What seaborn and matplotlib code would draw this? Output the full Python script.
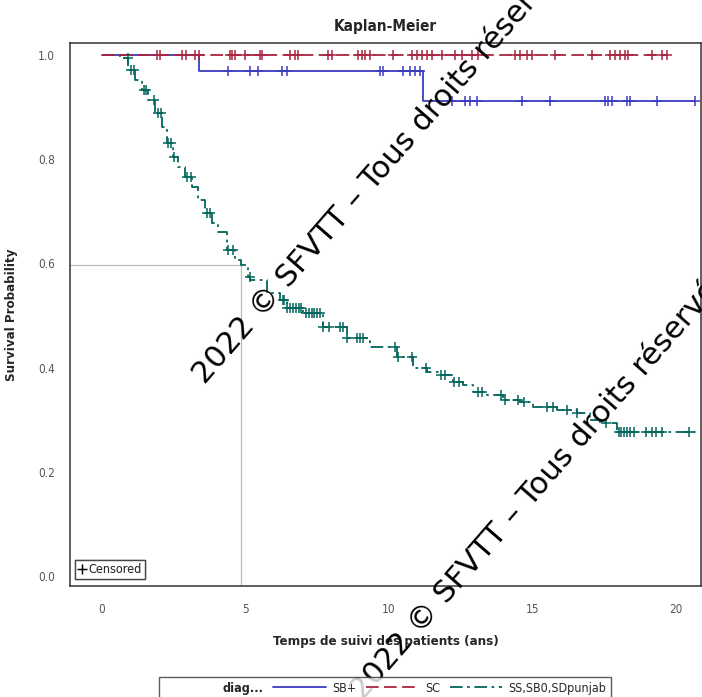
import numpy as np
import pandas as pd
import matplotlib
matplotlib.use("Agg")
import matplotlib.pyplot as plt
from matplotlib.lines import Line2D
import seaborn as sns

# ---------------- data ----------------
groups = ["SB+", "SC", "SS,SB0,SDpunjab"]

# SB+ : step curve
sbp_time = [0.0, 3.38, 11.2]
sbp_surv = [1.0, 0.969, 0.912]
sbp_end = 20.66
sbp_cens = [4.38, 5.16, 5.44, 6.27, 6.45, 9.69, 9.79, 10.49, 10.73, 10.91, 11.08,
            12.2, 12.65, 12.82, 13.07, 14.63, 15.61, 17.53, 17.63, 17.77, 18.29,
            18.4, 19.34, 20.66]

# SC : no events
sc_time = [0.0]
sc_surv = [1.0]
sc_end = 19.69
sc_cens = [1.91, 2.02, 2.79, 2.92, 3.24, 3.38, 4.46, 4.53, 4.63, 4.98, 5.51, 5.57,
           6.55, 6.72, 6.83, 7.86, 8.0, 8.92, 9.06, 9.16, 9.34, 10.14, 10.8, 10.98,
           11.15, 11.32, 11.5, 11.85, 12.3, 12.54, 12.89, 13.1, 14.39, 14.56, 14.8,
           14.98, 15.78, 17.07, 17.7, 17.87, 18.05, 18.22, 18.33, 19.16, 19.51, 19.69]

# SS,SB0,SDpunjab : step curve
ss_time = [0.0, 0.63, 0.91, 1.15, 1.39, 1.60, 1.85, 2.09, 2.26, 2.47, 2.65, 2.89, 3.14,
           3.34, 3.59, 3.83, 4.04, 4.36, 4.63, 4.84, 5.09, 5.16, 5.75, 6.20, 6.45,
           7.00, 7.70, 8.54, 9.34, 10.28, 10.84, 11.32, 11.78, 12.23, 12.58, 12.93,
           13.41, 13.97, 14.56, 15.02, 15.85, 16.55, 17.0, 17.35, 17.94]
ss_surv = [1.0, 0.994, 0.971, 0.952, 0.933, 0.914, 0.889, 0.862, 0.831, 0.804, 0.785,
           0.766, 0.747, 0.722, 0.697, 0.678, 0.660, 0.626, 0.607, 0.597, 0.574,
           0.568, 0.543, 0.530, 0.514, 0.505, 0.478, 0.457, 0.440, 0.420, 0.399,
           0.392, 0.386, 0.372, 0.367, 0.353, 0.347, 0.338, 0.334, 0.324, 0.319,
           0.313, 0.299, 0.294, 0.276]
ss_end = 20.84
ss_cens = [0.9, 1.0, 1.1, 1.45, 1.55, 1.8, 1.95, 2.05, 2.3, 2.4, 2.5, 2.95, 3.1, 3.65,
           3.75, 4.4, 4.55, 5.15, 6.3, 6.35, 6.45, 6.55, 6.65, 6.75, 6.85, 6.95, 7.1,
           7.2, 7.3, 7.4, 7.5, 7.6, 7.7, 7.9, 8.3, 8.4, 8.55, 8.9, 9.0, 9.1, 10.2,
           10.3, 10.8, 11.3, 11.8, 11.95, 12.25, 12.45, 13.1, 13.25, 13.9, 14.05,
           14.5, 14.7, 15.5, 15.7, 16.2, 16.55, 17.55, 18.0, 18.1, 18.2, 18.3, 18.4,
           18.55, 18.95, 19.15, 19.3, 19.5, 20.45]

ref_time = 4.84
ref_surv = 0.597

x_ticks = [0, 5, 10, 15, 20]
y_ticks = [0.0, 0.2, 0.4, 0.6, 0.8, 1.0]

colors = {"SB+": "#3B3BC0", "SC": "#A8253F", "SS,SB0,SDpunjab": "#02665C"}

# ---------------- build tables ----------------
curves = {"SB+": (sbp_time, sbp_surv, sbp_end, sbp_cens),
          "SC": (sc_time, sc_surv, sc_end, sc_cens),
          "SS,SB0,SDpunjab": (ss_time, ss_surv, ss_end, ss_cens)}
line_rows, cens_rows = [], []
for g, (t, s, end, c) in curves.items():
    for ti, si in zip(t, s):
        line_rows.append((g, ti, si))
    line_rows.append((g, end, s[-1]))
    idx = np.searchsorted(np.array(t), np.array(c), side="right") - 1
    for ci, ii in zip(c, idx):
        cens_rows.append((g, ci, s[ii]))
lines_df = pd.DataFrame(line_rows, columns=["diag", "time", "surv"])
cens_df = pd.DataFrame(cens_rows, columns=["diag", "time", "surv"])

# ---------------- plot ----------------
sns.set_style("white")
plt.rcParams["font.family"] = ["DejaVu Sans"]
plt.rcParams["font.stretch"] = "condensed"

fig = plt.figure(figsize=(7.02, 6.97), dpi=100)
ax = fig.add_axes([70 / 702, 111 / 697, 631 / 702, 543 / 697])

ax.plot([-5, ref_time], [ref_surv, ref_surv], color="#BBBBBB", lw=0.9, zorder=1)
ax.plot([ref_time, ref_time], [-1, ref_surv], color="#BBBBBB", lw=0.9, zorder=1)

order = ["SS,SB0,SDpunjab", "SB+", "SC"]
dashes = {"SB+": "", "SC": (7, 3), "SS,SB0,SDpunjab": (7, 2.5, 1.5, 2.5)}
for g in order:
    sub = lines_df[lines_df.diag == g]
    sns.lineplot(data=sub, x="time", y="surv", color=colors[g], lw=1.3,
                 drawstyle="steps-post", estimator=None, sort=False, ax=ax,
                 dashes=False, zorder=3)
    if dashes[g]:
        ax.lines[-1].set_dashes(dashes[g])
    subc = cens_df[cens_df.diag == g]
    sns.scatterplot(data=subc, x="time", y="surv", marker="+", color=colors[g],
                    s=55, linewidth=1.1, ax=ax, zorder=4)

ax.set_xlim(-1.115, 20.87)
ax.set_ylim(-0.0192, 1.023)
ax.set_xticks(x_ticks)
ax.set_xticklabels([str(v) for v in x_ticks])
ax.set_yticks(y_ticks)
ax.set_yticklabels([f"{v:.1f}" for v in y_ticks])
ax.tick_params(axis="both", direction="out", length=6, width=1, color="#333333",
               labelsize=8.5, labelcolor="#555555", pad=5)
ax.tick_params(axis="x", pad=6)
for sp in ax.spines.values():
    sp.set_color("#333333")
    sp.set_linewidth(1.1)

ax.set_xlabel("Temps de suivi des patients (ans)", fontsize=9.5, fontweight="bold",
              labelpad=14)
ax.set_ylabel("Survival Probability", fontsize=9.5, fontweight="bold", labelpad=14)
ax.set_title("Kaplan-Meier", fontsize=11, fontweight="bold", pad=9)

# censored legend inside axes
cl = ax.legend(handles=[Line2D([], [], color="black", marker="+", ls="none",
                               markersize=7, markeredgewidth=1)],
               labels=["Censored"], loc="lower left", bbox_to_anchor=(0.008, 0.012),
               frameon=True, fancybox=False, edgecolor="#333333", fontsize=9,
               handlelength=0.6, handletextpad=0.2, borderpad=0.25,
               borderaxespad=0.0)
cl.get_frame().set_linewidth(1.0)
ax.add_artist(cl)

# group legend at bottom
handles = [Line2D([], [], color="none")]
labels = ["diag..."]
for g in groups:
    handles.append(Line2D([], [], color=colors[g], lw=1.3,
                          dashes=dashes[g] if dashes[g] else (None, None)))
    labels.append(g)
lg = fig.legend(handles=handles, labels=labels, loc="upper center",
                bbox_to_anchor=(385 / 702, 26 / 697), ncol=4, frameon=True,
                fancybox=False, edgecolor="#333333", fontsize=9,
                handlelength=4.2, handletextpad=0.5, columnspacing=0.8,
                borderpad=0.35)
lg.get_frame().set_linewidth(1.0)
lg.get_texts()[0].set_fontweight("bold")

# watermark text
wm = "2022 \u00a9 SFVTT \u2013 Tous droits r\u00e9serv\u00e9s"
fig.text(205 / 702, 1 - 385 / 697, wm, rotation=49, rotation_mode="anchor",
         ha="left", va="baseline", fontsize=22, color="black",
         family=["DejaVu Sans"], fontstretch="normal")
fig.text(363 / 702, 1 - 701 / 697, wm, rotation=49, rotation_mode="anchor",
         ha="left", va="baseline", fontsize=22, color="black",
         family=["DejaVu Sans"], fontstretch="normal")

fig.savefig("out.png", dpi=100)
